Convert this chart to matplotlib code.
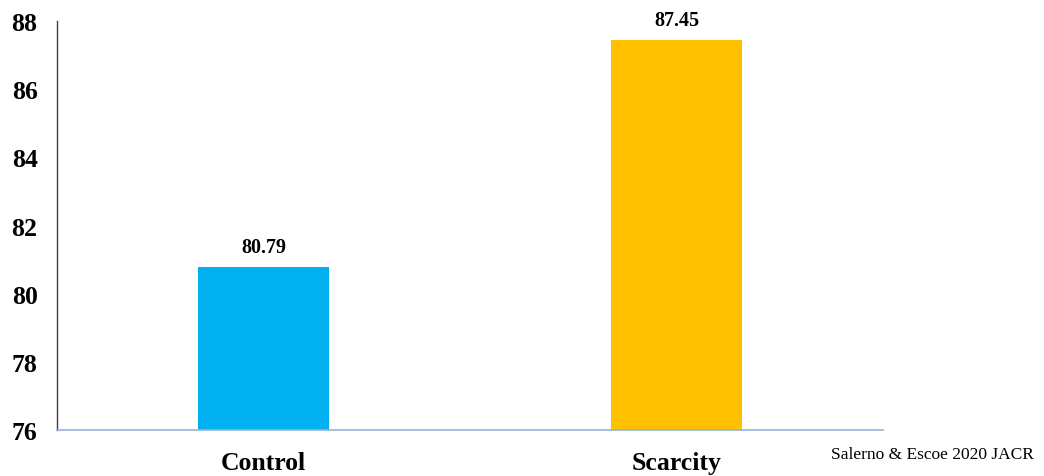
import matplotlib.pyplot as plt
import numpy as np

groups = ["Control", "Scarcity"]
scores = [80.79, 87.45]
bar_colors = ["#00B0F0", "#FFC000"]
y_ticks = [76, 78, 80, 82, 84, 86, 88]

plt.rcParams["font.family"] = ["Liberation Serif", "DejaVu Serif"]

fig = plt.figure(figsize=(10.44, 4.77), dpi=100)
ax = fig.add_axes([0.0546, 0.0964, 0.7912, 0.8574])

x = np.arange(len(groups))
bars = ax.bar(x, scores, width=0.315, color=bar_colors, bottom=0)

for xi, val in zip(x, scores):
    ax.text(xi, val + 0.3, f"{val:.2f}", ha="center", va="bottom",
            fontsize=14.5, fontweight="bold")

ax.set_xlim(-0.5, 1.5)
ax.set_ylim(76, 88)
ax.set_yticks(y_ticks)
ax.set_yticklabels([str(t) for t in y_ticks], fontsize=18.5, fontweight="bold")
ax.set_xticks(x)
ax.set_xticklabels(groups, fontsize=18.5, fontweight="bold")
ax.tick_params(axis="both", length=0)
ax.tick_params(axis="y", pad=14)
ax.tick_params(axis="x", pad=15)

for side in ["top", "right"]:
    ax.spines[side].set_visible(False)
ax.spines["left"].set_color("#404040")
ax.spines["left"].set_linewidth(1.0)
ax.spines["bottom"].set_color("#95B3D7")
ax.spines["bottom"].set_linewidth(1.2)

fig.text(0.99, 0.03, "Salerno & Escoe 2020 JACR", ha="right", va="bottom",
         fontsize=12.5)

fig.savefig("out.png", dpi=100)
